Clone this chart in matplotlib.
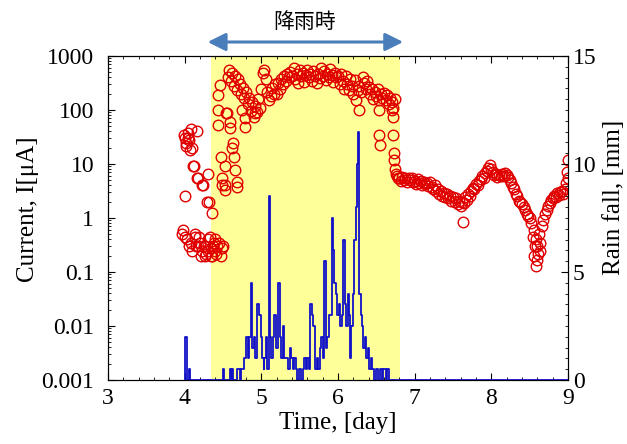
import matplotlib
matplotlib.use('Agg')
import matplotlib.pyplot as plt
import numpy as np
from matplotlib.ticker import (MultipleLocator, LogLocator, FixedLocator,
                               FuncFormatter, NullFormatter)

# Courant mesuré (µA), un point toutes les 0.02 jour de 4.0 à 9.0
temps_courant = np.round(np.arange(4.0, 9.001, 0.02), 2)
courant = [
    30, 22, 38, 28, 45, 20, 9, 0.45, 5.5, 0.3,
    0.35, 0.25, 4.0, 0.3, 0.22, 0.4, 2.0, 0.28, 0.2, 0.35,
    0.25, 0.3, 100, 290, 13.5, 0.3, 9, 88, 400, 550,
    350, 480, 280, 420, 230, 380, 300, 200, 260, 170,
    220, 130, 170, 95, 140, 75, 120, 90, 160, 110,
    250, 480, 560, 380, 220, 150, 180, 260, 200, 300,
    200, 320, 250, 380, 300, 420, 350, 460, 400, 500,
    430, 600, 380, 470, 320, 550, 420, 480, 330, 450,
    560, 400, 470, 340, 520, 420, 310, 460, 390, 600,
    430, 520, 360, 470, 400, 580, 440, 330, 480, 400,
    430, 300, 470, 350, 250, 420, 300, 230, 380, 280,
    200, 360, 150, 230, 280, 220, 400, 320, 250, 350,
    270, 200, 250, 160, 220, 180, 240, 150, 200, 170,
    210, 150, 190, 130, 170, 140, 110, 160, 6.5, 5.5,
    5.5, 4.8, 5.8, 5.0, 5.5, 4.6, 5.6, 5.0, 5.4, 4.7,
    4.9, 4.3, 5.2, 4.5, 4.8, 4.1, 4.6, 4.2, 4.5, 3.9,
    4.6, 3.8, 3.5, 4.0, 3.2, 3.4, 2.8, 3.1, 2.6, 2.9,
    2.4, 2.8, 2.3, 2.6, 2.1, 2.5, 2.0, 2.3, 1.8, 2.1,
    1.7, 2.0, 1.9, 2.4, 2.2, 2.8, 2.6, 3.2, 3.6, 3.4,
    4.2, 4.0, 4.8, 5.3, 5.9, 5.6, 6.8, 7.5, 8.6, 9.5,
    8.0, 7.0, 6.2, 6.6, 5.7, 6.3, 5.9, 6.5, 6.0, 6.8,
    6.3, 5.8, 5.0, 4.4, 3.7, 3.4, 2.8, 2.6, 2.1, 2.0,
    1.8, 1.6, 1.4, 1.2, 1.1, 1.0, 0.8, 0.45, 0.2, 0.13,
    0.3, 0.5, 0.35, 0.7, 0.9, 1.2, 1.4, 1.7, 1.9, 2.2,
    2.3, 2.6, 2.4, 2.9, 2.7, 3.0, 3.2, 2.8, 3.4, 4.5,
    12,
]

# Points dispersés supplémentaires (mesures instables)
temps_disperses = [
    3.97, 3.98, 3.99, 4.00, 4.01, 4.02, 4.03, 4.05, 4.06, 4.07,
    4.08, 4.09, 4.11, 4.13, 4.15, 4.16, 4.17, 4.19, 4.21, 4.23,
    4.25, 4.27, 4.29, 4.30, 4.31, 4.33, 4.35, 4.36, 4.37, 4.39,
    4.41, 4.43, 4.43, 4.45, 4.47, 4.49, 4.49, 4.49, 4.53, 4.53,
    4.55, 4.59, 4.59, 4.62, 4.63, 4.64, 4.66, 4.68, 4.68, 4.75,
    4.79, 4.79, 4.92, 6.27, 6.53, 6.54, 6.55, 6.71, 6.72, 6.72,
    6.73, 6.73, 6.74, 6.77, 7.63, 8.55, 8.57, 8.58, 8.59, 8.61,
    8.63, 8.99, 9.00,
]
courant_disperses = [
    0.5, 0.6, 35, 2.6, 0.45, 25, 0.4, 30, 0.3, 18,
    0.35, 0.25, 9, 0.5, 0.3, 40, 5.5, 0.45, 0.2, 4,
    0.3, 0.2, 2.0, 6.5, 0.25, 0.45, 0.2, 1.24, 0.3, 0.4,
    0.22, 190, 53, 0.35, 0.2, 5.5, 4.1, 0.28, 4.0, 3.3,
    88, 60, 46, 20, 25, 13.5, 7.8, 4.7, 3.8, 100,
    70, 48, 88, 100, 100, 34, 22.6, 100, 75, 34,
    16, 12, 8, 6, 0.85, 0.6, 0.3, 0.4, 0.17, 0.22,
    0.25, 7, 5.5,
]

# Pluviométrie (mm), valeurs en escalier à partir de chaque instant
temps_pluie = [
    4.00, 4.01, 4.03, 4.06, 4.07, 4.50, 4.51, 4.59, 4.60, 4.62,
    4.63, 4.68, 4.72, 4.73, 4.78, 4.80, 4.82, 4.84, 4.86, 4.88,
    4.90, 4.92, 4.94, 4.97, 4.99, 5.01, 5.03, 5.04, 5.06, 5.08,
    5.10, 5.11, 5.13, 5.15, 5.17, 5.19, 5.22, 5.24, 5.26, 5.28,
    5.30, 5.33, 5.35, 5.37, 5.39, 5.41, 5.43, 5.45, 5.47, 5.49,
    5.52, 5.54, 5.56, 5.58, 5.60, 5.62, 5.64, 5.66, 5.68, 5.70,
    5.72, 5.74, 5.76, 5.78, 5.80, 5.82, 5.84, 5.86, 5.88, 5.92,
    5.94, 5.95, 5.97, 5.99, 6.01, 6.03, 6.05, 6.07, 6.09, 6.11,
    6.13, 6.15, 6.16, 6.17, 6.19, 6.21, 6.23, 6.25, 6.26, 6.27,
    6.28, 6.30, 6.31, 6.33, 6.35, 6.37, 6.39, 6.41, 6.43, 6.45,
    6.47, 6.50, 6.52, 6.55, 6.57, 6.59, 6.62, 6.64, 6.66, 9.00,
]
pluie = [
    0, 2.0, 0, 0.5, 0, 0.5, 0, 0.5, 0, 0.5,
    0, 0.5, 0, 0.5, 1.0, 2.0, 1.0, 2.0, 4.5, 1.5,
    2.0, 1.0, 3.5, 3.0, 2.0, 1.0, 0.5, 1.0, 2.0, 0.5,
    8.5, 2.0, 1.0, 2.0, 3.0, 1.5, 4.5, 2.0, 1.0, 2.5,
    1.0, 1.0, 0.5, 1.5, 1.0, 0.5, 1.0, 0.5, 0, 0.5,
    0, 0.5, 1.0, 0.5, 1.0, 0.5, 3.5, 3.0, 2.5, 0.5,
    1.0, 0.5, 1.5, 2.0, 1.0, 5.5, 1.5, 2.0, 3.0, 7.5,
    6.0, 4.5, 4.0, 3.0, 3.5, 2.5, 3.0, 6.5, 3.5, 2.5,
    4.0, 3.0, 1.0, 2.5, 4.0, 6.5, 8.0, 10.0, 11.5, 10.0,
    4.0, 3.0, 2.5, 1.5, 2.0, 1.0, 1.5, 0.5, 1.0, 0.5,
    0, 0.5, 0, 0.5, 0, 0.5, 0, 0.5, 0, 0,
]

periode_pluie = (4.35, 6.81)
graduations_courant = [0.001, 0.01, 0.1, 1, 10, 100, 1000]


def plot_courant_pluie(output_path="out.png"):
    """
    Trace le courant (échelle log, axe gauche) et la pluie (axe droit)
    en fonction du temps, avec la période de pluie surlignée.
    """
    plt.rcParams['font.family'] = ['Liberation Serif', 'DejaVu Serif']

    fig = plt.figure(figsize=(6.27, 4.44), dpi=100)
    ax = fig.add_axes([108 / 627, 64 / 444, 460 / 627, 324 / 444])

    # Zone jaune = période de pluie
    ax.axvspan(*periode_pluie, color='#ffff99', zorder=0, lw=0)

    ax.plot(temps_courant, courant, 'o', ms=7.6, mfc='none', mec='#e00000',
            mew=1.0, zorder=3)
    ax.plot(temps_disperses, courant_disperses, 'o', ms=7.6, mfc='none',
            mec='#e00000', mew=1.0, zorder=3)

    ax.set_yscale('log')
    ax.set_xlim(3, 9)
    ax.set_ylim(0.001, 1000)
    ax.xaxis.set_major_locator(MultipleLocator(1))
    ax.xaxis.set_minor_locator(MultipleLocator(0.2))
    ax.yaxis.set_major_locator(FixedLocator(graduations_courant))
    ax.yaxis.set_major_formatter(FuncFormatter(lambda v, p: f"{v:g}"))
    ax.yaxis.set_minor_locator(LogLocator(base=10, subs=np.arange(2, 10), numticks=20))
    ax.yaxis.set_minor_formatter(NullFormatter())
    ax.tick_params(which='both', direction='in', top=True, right=False,
                   labelsize=17)
    ax.tick_params(which='major', length=5)
    ax.tick_params(which='minor', length=2.5)
    ax.tick_params(axis='y', pad=10)
    ax.tick_params(axis='x', pad=6)

    # Axe droit : pluie
    ax2 = ax.twinx()
    ax2.plot(temps_pluie, pluie, drawstyle='steps-post', color='#1010c8',
             lw=1.3, zorder=4)
    ax2.set_ylim(0, 15)
    ax2.yaxis.set_major_locator(MultipleLocator(5))
    ax2.yaxis.set_minor_locator(MultipleLocator(0.5))
    ax2.tick_params(which='both', direction='in', labelsize=17, pad=3.5)
    ax2.tick_params(which='major', length=5)
    ax2.tick_params(which='minor', length=2.5)

    fig.text(28 / 627, 1 - 209 / 444, "Current, I[μA]", rotation=90,
             ha='center', va='center', fontsize=18)
    fig.text(614 / 627, 1 - 197 / 444, "Rain fall, [mm]", rotation=90,
             ha='center', va='center', fontsize=18)
    fig.text(338 / 627, 1 - 423 / 444, "Time, [day]", ha='center',
             va='center', fontsize=18)

    # Flèche double et libellé de la période de pluie
    y_fleche = 1 + 14 / 324
    ax.annotate('', xy=(6.85, y_fleche), xytext=(4.30, y_fleche),
                xycoords=('data', 'axes fraction'),
                textcoords=('data', 'axes fraction'),
                annotation_clip=False,
                arrowprops=dict(arrowstyle='<|-|>,head_length=0.9,head_width=0.45',
                                mutation_scale=12, color='#4a7ebb', lw=2.2,
                                shrinkA=0, shrinkB=0))
    fig.text(305 / 627, 1 - 22 / 444, "降雨時", ha='center', va='center',
             fontsize=15, family=['Noto Sans CJK JP', 'DejaVu Sans'])

    fig.savefig(output_path, dpi=100)
    print(f"Graphique sauvegardé dans : {output_path}")
    plt.close(fig)


if __name__ == '__main__':
    plot_courant_pluie()
